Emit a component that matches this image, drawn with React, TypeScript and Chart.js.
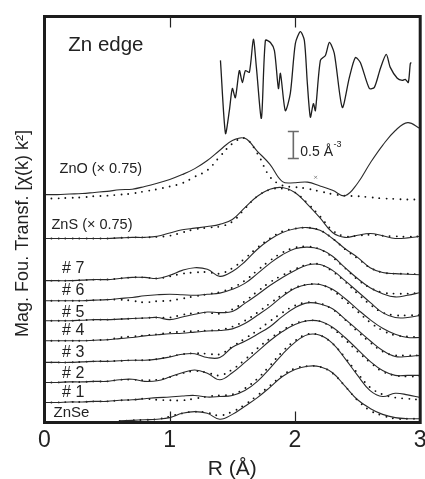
import React, { useEffect, useRef } from 'react';
import { Chart, registerables } from 'chart.js';
Chart.register(...registerables);

const FONT = "'Liberation Sans', Arial, Helvetica, sans-serif";

// R grid (Å)
const R = [0, 0.1, 0.2, 0.3, 0.4, 0.5, 0.6, 0.7, 0.8, 0.9, 1.0, 1.1, 1.2, 1.3, 1.4, 1.5, 1.6, 1.7, 1.8, 1.9, 2.0, 2.1, 2.2, 2.3, 2.4, 2.5, 2.6, 2.7, 2.8, 2.9, 3.0];

// Magnitude (offset, Å^-3) – solid = experiment, dots = fit
const znoSolid = [4.21, 4.21, 4.22, 4.23, 4.25, 4.27, 4.30, 4.31, 4.36, 4.42, 4.49, 4.58, 4.69, 4.84, 5.03, 5.21, 5.25, 5.01, 4.77, 4.45, 4.43, 4.44, 4.37, 4.29, 4.19, 4.42, 4.79, 5.12, 5.39, 5.54, 5.43];
const znoDots = [4.14, 4.14, 4.15, 4.16, 4.18, 4.19, 4.21, 4.23, 4.27, 4.31, 4.36, 4.42, 4.54, 4.66, 4.91, 5.15, 5.25, 4.97, 4.54, 4.38, 4.35, 4.32, 4.27, 4.22, 4.19, 4.18, 4.16, 4.14, 4.13, 4.12, 4.12];
const znsSolid = [3.40, 3.40, 3.40, 3.40, 3.40, 3.40, 3.41, 3.42, 3.42, 3.44, 3.50, 3.56, 3.59, 3.62, 3.66, 3.75, 3.97, 4.18, 4.31, 4.34, 4.25, 4.03, 3.78, 3.51, 3.42, 3.46, 3.49, 3.45, 3.40, 3.41, 3.44];
const znsDots = [3.40, 3.40, 3.40, 3.40, 3.40, 3.40, 3.41, 3.42, 3.42, 3.43, 3.45, 3.51, 3.57, 3.60, 3.62, 3.71, 3.95, 4.18, 4.30, 4.32, 4.25, 4.05, 3.81, 3.55, 3.44, 3.45, 3.47, 3.45, 3.44, 3.43, 3.44];
const s7Solid = [2.62, 2.62, 2.62, 2.63, 2.64, 2.64, 2.66, 2.68, 2.68, 2.66, 2.72, 2.81, 2.86, 2.83, 2.70, 2.79, 2.97, 3.20, 3.38, 3.51, 3.58, 3.60, 3.55, 3.40, 3.21, 3.05, 2.86, 2.77, 2.75, 2.74, 2.73];
const s7Dots = [2.62, 2.62, 2.62, 2.63, 2.64, 2.64, 2.66, 2.68, 2.68, 2.66, 2.70, 2.75, 2.77, 2.78, 2.75, 2.85, 3.03, 3.23, 3.40, 3.53, 3.58, 3.60, 3.55, 3.40, 3.20, 3.03, 2.86, 2.77, 2.75, 2.75, 2.73];
const s6Solid = [2.25, 2.25, 2.25, 2.25, 2.26, 2.27, 2.29, 2.31, 2.34, 2.36, 2.37, 2.36, 2.35, 2.37, 2.39, 2.46, 2.57, 2.75, 2.94, 3.10, 3.21, 3.24, 3.20, 3.07, 2.86, 2.66, 2.49, 2.38, 2.32, 2.35, 2.40];
const s6Dots = [2.25, 2.25, 2.25, 2.25, 2.26, 2.27, 2.27, 2.25, 2.22, 2.24, 2.25, 2.29, 2.33, 2.37, 2.41, 2.49, 2.62, 2.81, 2.99, 3.14, 3.23, 3.25, 3.20, 3.05, 2.85, 2.64, 2.49, 2.40, 2.38, 2.38, 2.40];
const s5Solid = [1.88, 1.88, 1.88, 1.89, 1.90, 1.90, 1.91, 1.92, 1.93, 1.94, 1.90, 1.95, 2.00, 2.04, 2.03, 2.05, 2.20, 2.36, 2.53, 2.68, 2.81, 2.91, 2.92, 2.81, 2.62, 2.42, 2.22, 2.03, 1.94, 1.94, 1.98];
const s5Dots = [1.88, 1.88, 1.88, 1.89, 1.90, 1.90, 1.91, 1.92, 1.93, 1.94, 1.94, 1.99, 2.02, 2.03, 2.01, 2.09, 2.24, 2.42, 2.59, 2.72, 2.83, 2.92, 2.92, 2.79, 2.60, 2.38, 2.18, 2.03, 1.98, 1.98, 1.98];
const s4Solid = [1.51, 1.51, 1.51, 1.51, 1.52, 1.53, 1.55, 1.57, 1.60, 1.62, 1.64, 1.65, 1.67, 1.69, 1.70, 1.73, 1.83, 1.98, 2.14, 2.33, 2.48, 2.55, 2.55, 2.46, 2.29, 2.09, 1.90, 1.74, 1.63, 1.57, 1.57];
const s4Dots = [1.51, 1.51, 1.51, 1.51, 1.52, 1.53, 1.57, 1.59, 1.61, 1.63, 1.66, 1.68, 1.69, 1.70, 1.71, 1.77, 1.88, 2.03, 2.20, 2.36, 2.49, 2.55, 2.55, 2.44, 2.25, 2.05, 1.85, 1.70, 1.61, 1.59, 1.57];
const s3Solid = [1.11, 1.11, 1.11, 1.12, 1.13, 1.13, 1.14, 1.15, 1.15, 1.17, 1.21, 1.26, 1.27, 1.20, 1.20, 1.39, 1.50, 1.63, 1.77, 1.96, 2.12, 2.21, 2.19, 2.10, 1.91, 1.71, 1.51, 1.33, 1.22, 1.22, 1.24];
const s3Dots = [1.11, 1.11, 1.11, 1.12, 1.13, 1.13, 1.14, 1.15, 1.15, 1.17, 1.22, 1.26, 1.28, 1.27, 1.26, 1.40, 1.55, 1.70, 1.87, 2.03, 2.16, 2.22, 2.20, 2.09, 1.90, 1.68, 1.48, 1.31, 1.24, 1.24, 1.24];
const s2Solid = [0.74, 0.74, 0.75, 0.75, 0.76, 0.76, 0.79, 0.80, 0.76, 0.77, 0.84, 0.92, 0.97, 0.91, 0.79, 0.92, 1.11, 1.31, 1.51, 1.68, 1.81, 1.88, 1.87, 1.76, 1.57, 1.35, 1.13, 0.96, 0.87, 0.87, 0.87];
const s2Dots = [0.74, 0.74, 0.75, 0.75, 0.76, 0.76, 0.79, 0.79, 0.78, 0.79, 0.84, 0.91, 0.95, 0.92, 0.87, 0.98, 1.16, 1.37, 1.55, 1.70, 1.83, 1.88, 1.87, 1.74, 1.53, 1.31, 1.11, 0.94, 0.87, 0.85, 0.85];
const s1Solid = [0.37, 0.37, 0.38, 0.38, 0.39, 0.39, 0.41, 0.42, 0.44, 0.46, 0.47, 0.49, 0.50, 0.47, 0.48, 0.50, 0.59, 0.76, 1.00, 1.26, 1.48, 1.62, 1.61, 1.46, 1.18, 0.87, 0.59, 0.48, 0.54, 0.51, 0.46];
const s1Dots = [0.37, 0.37, 0.38, 0.38, 0.39, 0.39, 0.41, 0.42, 0.44, 0.42, 0.41, 0.41, 0.44, 0.48, 0.50, 0.52, 0.63, 0.81, 1.05, 1.31, 1.51, 1.63, 1.61, 1.46, 1.20, 0.91, 0.65, 0.52, 0.46, 0.44, 0.42];
const znseSolid = [null, null, null, null, null, null, 0.03, 0.04, 0.05, 0.06, 0.09, 0.17, 0.20, 0.17, 0.06, 0.15, 0.30, 0.46, 0.65, 0.85, 0.98, 1.04, 1.03, 0.92, 0.67, 0.42, 0.26, 0.15, 0.09, 0.07, 0.07];
const znseDots = [null, null, null, null, null, null, 0.03, 0.04, 0.05, 0.06, 0.11, 0.17, 0.20, 0.18, 0.13, 0.20, 0.33, 0.50, 0.68, 0.87, 1.00, 1.04, 1.03, 0.91, 0.67, 0.41, 0.22, 0.13, 0.07, 0.07, 0.07];

// inset chi(k) trace, placed in plot coordinates
const insetX = [1.405, 1.445, 1.476, 1.500, 1.524, 1.556, 1.580, 1.604, 1.636, 1.668, 1.692, 1.732, 1.764, 1.804, 1.836, 1.868, 1.884, 1.923, 1.963, 2.003, 2.043, 2.075, 2.099, 2.123, 2.147, 2.163, 2.203, 2.243, 2.275, 2.314, 2.378, 2.434, 2.482, 2.522, 2.594, 2.634, 2.682, 2.729, 2.761, 2.817, 2.857, 2.881, 2.905, 2.921, 2.929];
const insetY = [6.69, 5.34, 5.76, 6.17, 6.00, 6.50, 6.28, 6.50, 6.47, 7.08, 6.56, 5.62, 7.06, 7.02, 6.87, 6.17, 6.45, 5.76, 6.08, 7.00, 7.22, 7.06, 6.26, 5.64, 5.89, 5.76, 6.69, 6.78, 7.02, 6.82, 5.82, 6.37, 6.74, 6.65, 6.17, 6.19, 6.54, 6.80, 6.56, 6.36, 6.32, 6.34, 6.28, 6.63, 6.65];

// small marker near ZnO
const markX = [2.165];
const markY = [4.53];

// scale bar 0.5 Å^-3
const barR = 1.987;
const barY0 = 4.877;
const barLen = 0.5;

const xTicks = [0, 1, 2, 3];

const labelTexts = ['Zn edge', 'ZnO (× 0.75)', 'ZnS (× 0.75)', '# 7', '# 6', '# 5', '# 4', '# 3', '# 2', '# 1', 'ZnSe'];
const labelR = [0.19, 0.12, 0.056, 0.14, 0.14, 0.14, 0.14, 0.14, 0.14, 0.14, 0.072];
const labelY = [6.97, 4.69, 3.64, 2.85, 2.44, 2.03, 1.70, 1.29, 0.91, 0.55, 0.17];
const labelSize = [20.5, 14.5, 14.5, 16, 16, 16, 16, 16, 16, 16, 15];

const pts = (xs: number[], ys: (number | null)[]) => xs.map((x, i) => ({ x, y: ys[i] }));

const solidPairs: [(number | null)[], (number | null)[]][] = [
  [znoSolid, znoDots], [znsSolid, znsDots], [s7Solid, s7Dots], [s6Solid, s6Dots], [s5Solid, s5Dots],
  [s4Solid, s4Dots], [s3Solid, s3Dots], [s2Solid, s2Dots], [s1Solid, s1Dots], [znseSolid, znseDots],
];

const decor = {
  id: 'decor',
  afterDatasetsDraw(chart: any) {
    const { ctx, chartArea: a, scales } = chart;
    const xs = scales.x, ys = scales.y;
    ctx.save();
    // frame
    ctx.strokeStyle = '#1c1c1c';
    ctx.lineWidth = 3;
    ctx.strokeRect(a.left, a.top, a.right - a.left, a.bottom - a.top);
    // inner ticks
    ctx.lineWidth = 1.2;
    ctx.strokeStyle = '#222';
    [1, 2].forEach((v) => {
      const px = Math.round(xs.getPixelForValue(v)) + 0.5;
      ctx.beginPath();
      ctx.moveTo(px, a.bottom);
      ctx.lineTo(px, a.bottom - 11);
      ctx.moveTo(px, a.top);
      ctx.lineTo(px, a.top + 11);
      ctx.stroke();
    });
    // scale bar
    const bx = xs.getPixelForValue(barR);
    const by0 = ys.getPixelForValue(barY0);
    const by1 = ys.getPixelForValue(barY0 + barLen);
    ctx.strokeStyle = '#6a6a6a';
    ctx.lineWidth = 1.6;
    ctx.beginPath();
    ctx.moveTo(bx, by0); ctx.lineTo(bx, by1);
    ctx.moveTo(bx - 5.5, by0); ctx.lineTo(bx + 5.5, by0);
    ctx.moveTo(bx - 5.5, by1); ctx.lineTo(bx + 5.5, by1);
    ctx.stroke();
    ctx.fillStyle = '#222';
    ctx.textBaseline = 'middle';
    ctx.textAlign = 'left';
    ctx.font = `14px ${FONT}`;
    const tx = bx + 7;
    const ty = (by0 + by1) / 2 + 7;
    ctx.fillText('0.5 Å', tx, ty);
    const w = ctx.measureText('0.5 Å').width;
    ctx.font = `9px ${FONT}`;
    ctx.fillText('-3', tx + w + 0.5, ty - 7);
    // labels
    labelTexts.forEach((t, i) => {
      ctx.font = `${labelSize[i]}px ${FONT}`;
      ctx.fillText(t, xs.getPixelForValue(labelR[i]), ys.getPixelForValue(labelY[i]));
    });
    // y title
    ctx.save();
    ctx.translate(a.left - 21.5, (a.top + a.bottom) / 2 + 14);
    ctx.rotate(-Math.PI / 2);
    ctx.textAlign = 'center';
    ctx.font = `18px ${FONT}`;
    ctx.fillText('Mag. Fou. Transf. [χ(k) k²]', 0, 0);
    ctx.restore();
    ctx.restore();
  },
};

export default function App() {
  const ref = useRef<HTMLCanvasElement>(null);
  useEffect(() => {
    document.body.style.margin = '0';
    const datasets: any[] = [];
    solidPairs.forEach(([s, d]) => {
      datasets.push({ data: pts(R, s), borderColor: '#2a2a2a', borderWidth: 1.1, pointRadius: 0, tension: 0.4, fill: false });
      datasets.push({ data: pts(R, d), borderColor: '#111', borderWidth: 1.9, borderDash: [0, 7], borderCapStyle: 'round', pointRadius: 0, tension: 0.4, fill: false });
    });
    datasets.push({ data: pts(insetX, insetY), borderColor: '#1e1e1e', borderWidth: 1.3, pointRadius: 0, tension: 0.25, fill: false });
    datasets.push({ data: pts(markX, markY), showLine: false, pointRadius: 2, pointStyle: 'crossRot', borderColor: '#777', borderWidth: 0.8 });

    const chart = new Chart(ref.current as HTMLCanvasElement, {
      type: 'line',
      data: { datasets },
      options: {
        animation: false,
        responsive: false,
        devicePixelRatio: 1,
        layout: { padding: { left: 44.5, right: 4.5, top: 16.5, bottom: 0 } },
        plugins: { legend: { display: false }, tooltip: { enabled: false } },
        scales: {
          x: {
            type: 'linear', min: 0, max: 3,
            grid: { display: false, drawTicks: false },
            border: { display: false },
            afterBuildTicks: (s: any) => { s.ticks = xTicks.map((v) => ({ value: v })); },
            ticks: { padding: 4, color: '#222', font: { family: FONT, size: 23 }, callback: (v: any) => String(v) },
            title: { display: true, text: 'R (Å)', color: '#222', font: { family: FONT, size: 21, lineHeight: 0.9 }, padding: { top: 0, bottom: 0 } },
            afterFit: (s: any) => { s.height = 56.5; s.paddingLeft = 0; s.paddingRight = 0; },
          },
          y: { type: 'linear', min: 0, max: 7.5, display: false },
        },
      },
      plugins: [decor],
    } as any);
    return () => chart.destroy();
  }, []);
  return (
    <div style={{ width: 425, height: 479 }}>
      <canvas ref={ref} width={425} height={479} style={{ display: 'block' }} />
    </div>
  );
}
